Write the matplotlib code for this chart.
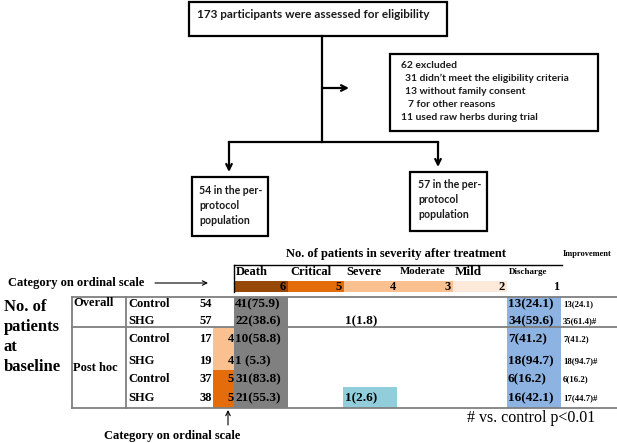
import matplotlib
import numpy as np

matplotlib.use("Agg")
import matplotlib.pyplot as plt  # noqa: E402
from matplotlib.patches import Rectangle  # noqa: E402

# flowchart text
screened = "173 participants were assessed for eligibility"
excluded = ["62 excluded",
            "31 didn\u2019t meet the eligibility criteria",
            "13 without family consent",
            "7 for other reasons",
            "11 used raw herbs during trial"]
arm_boxes = [["54 in the per-", "protocol", "population"],
             ["57 in the per-", "protocol", "population"]]

# outcome table
severity = ["Death", "Critical", "Severe", "Moderate", "Mild", "Discharge"]
ordinal = [6, 5, 4, 3, 2, 1]
groups = ["Overall", "Post hoc"]
arms = ["Control", "SHG", "Control", "SHG", "Control", "SHG"]
n_base = [54, 57, 17, 19, 37, 38]
base_cat = [None, None, 4, 4, 5, 5]
death = ["41(75.9)", "22(38.6)", "10(58.8)", "1 (5.3)", "31(83.8)", "21(55.3)"]
severe = ["", "1(1.8)", "", "", "", "1(2.6)"]
discharge = ["13(24.1)", "34(59.6)", "7(41.2)", "18(94.7)", "6(16.2)", "16(42.1)"]
improvement = ["13(24.1)", "35(61.4)#", "7(41.2)", "18(94.7)#", "6(16.2)", "17(44.7)#"]

scale_colors = {6: "#974806", 5: "#E46C0A", 4: "#FAC090", 3: "#FAC090",
                2: "#FDE9D9", 1: "white"}

fig = plt.figure(figsize=(6.17, 4.43), dpi=100)
ax = fig.add_axes([0, 0, 1, 1])
ax.set_xlim(0, 617)
ax.set_ylim(443, 0)
ax.axis("off")

sans = dict(family="Lato", weight="bold", color="#1a1a1a")
serif = dict(family="Liberation Serif", weight="bold", color="black")


def box(x0, y0, x1, y1):
    ax.add_patch(Rectangle((x0, y0), x1 - x0, y1 - y0, fill=False,
                           ec="black", lw=1.6))


def arrow(x0, y0, x1, y1, lw=1.6, ms=10):
    ax.annotate("", xy=(x1, y1), xytext=(x0, y0),
                arrowprops=dict(arrowstyle="->", lw=lw, color="black",
                                mutation_scale=ms, shrinkA=0, shrinkB=0))


# ---- flowchart ----
box(189, 2, 447, 36)
ax.text(197, 14, screened, fontsize=8.5, va="center", **sans)
ax.plot([322, 322], [36, 142], color="black", lw=1.6)
arrow(322, 88, 349, 88)
box(390, 54, 598, 131)
xs = [401, 405, 405, 408, 401]
for i, line in enumerate(excluded):
    ax.text(xs[i], 65 + 13 * i, line, fontsize=7.4, va="center", **sans)
ax.plot([229, 438], [142, 142], color="black", lw=1.6)
arrow(229, 142, 229, 172)
arrow(438, 142, 438, 167)
box(192, 177, 268, 236)
box(410, 172, 487, 231)
for (bx, by), lines in zip([(199, 190), (418, 184)], arm_boxes):
    for j, line in enumerate(lines):
        ax.text(bx, by + 15 * j, line, fontsize=7.6, va="center", **sans)

# ---- table ----
edges = np.array([234, 288, 344, 398, 453, 507, 561])
row_y = [304, 321, 339, 361, 379, 398]
top, mid, bot = 297, 327, 408

ax.text(286, 254, "No. of patients in severity after treatment",
        fontsize=9, va="center", **serif)
ax.text(563, 254, "Improvement", fontsize=6, va="center", **serif)
ax.plot([234, 562], [265, 265], color="black", lw=1.0)
ax.plot([234, 234], [265, 292], color="black", lw=1.0)

head_size = [9, 9, 9, 7.8, 9.5, 6.5]
for i, lab in enumerate(severity):
    ax.text(edges[i] + 2, 272, lab, fontsize=head_size[i], va="center", **serif)
    ax.add_patch(Rectangle((edges[i], 281), edges[i + 1] - edges[i], 11,
                           color=scale_colors[ordinal[i]], lw=0))
    ax.text(edges[i + 1] - 2, 286.5, str(ordinal[i]), fontsize=9,
            ha="right", va="center", **serif)

ax.text(8, 283, "Category on ordinal scale", fontsize=9, va="center", **serif)
arrow(155, 283, 208, 283, lw=0.8, ms=8)

# column shading
ax.add_patch(Rectangle((edges[0], top), edges[1] - edges[0], bot - top,
                       color="#808080", lw=0))
ax.add_patch(Rectangle((edges[5], top), edges[6] - edges[5], bot - top,
                       color="#8DB3E2", lw=0))
ax.add_patch(Rectangle((343, 387), 54, bot - 387, color="#92CDDC", lw=0))

# baseline category cells
cat_top = {4: mid, 5: 370}
cat_bot = {4: 370, 5: bot}
for c in (4, 5):
    ax.add_patch(Rectangle((213, cat_top[c]), 21, cat_bot[c] - cat_top[c],
                           color=scale_colors[c], lw=0))

for i, y in enumerate(row_y):
    ax.text(128, y, arms[i], fontsize=9, va="center", **serif)
    ax.text(212, y, str(n_base[i]), fontsize=9, ha="right", va="center", **serif)
    if base_cat[i] is not None:
        ax.text(234, y, str(base_cat[i]), fontsize=9, ha="right",
                va="center", **serif)
    ax.text(235, y, death[i], fontsize=9.5, va="center", **serif)
    if severe[i]:
        ax.text(345, y, severe[i], fontsize=9.5, va="center", **serif)
    ax.text(508, y, discharge[i], fontsize=9.5, va="center", **serif)
    ax.text(563, y, improvement[i], fontsize=6.3, va="center", **serif)

ax.text(73, 303, groups[0], fontsize=9, va="center", **serif)
ax.text(73, 368, groups[1], fontsize=9, va="center", **serif)

grid = dict(color="#7F7F7F", lw=1.3)
for y in (top, mid, bot):
    ax.plot([72, 617], [y, y], **grid)
for x in (72, 126):
    ax.plot([x, x], [top, bot], **grid)

for j, word in enumerate(["No. of", "patients", "at", "baseline"]):
    ax.text(4, 307 + 20 * j, word, fontsize=12, va="center", **serif)

arrow(228, 425, 228, 410, lw=0.8, ms=8)
ax.text(172, 436, "Category on ordinal scale", fontsize=9, ha="center",
        va="center", **serif)
ax.text(467, 418, "# vs. control p<0.01", fontsize=11.5, va="center",
        family="Liberation Serif", color="black")

fig.savefig("out.png", dpi=100)
plt.close(fig)
